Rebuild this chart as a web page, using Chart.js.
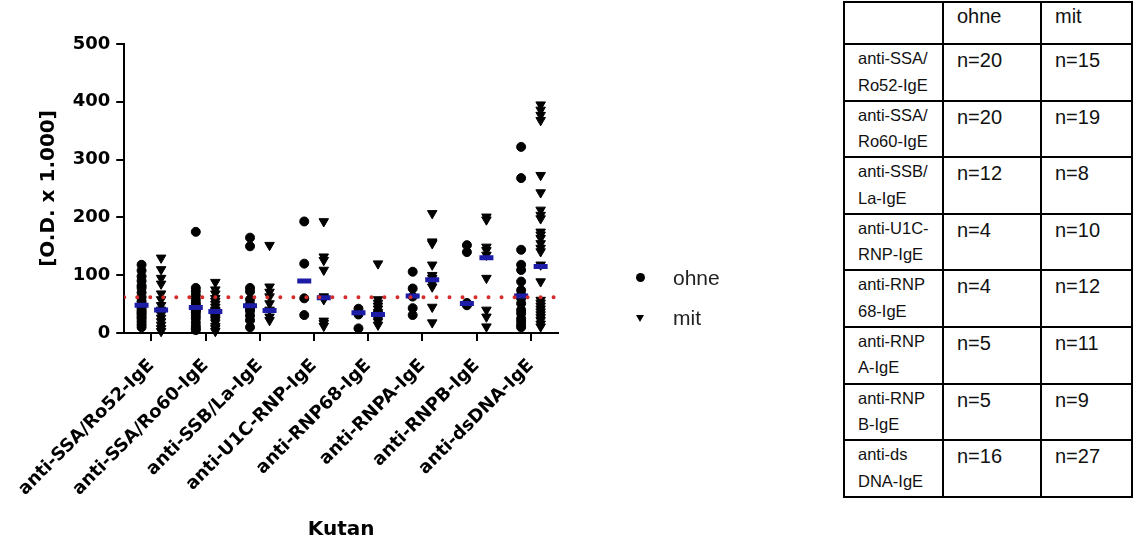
<!DOCTYPE html>
<html>
<head>
<meta charset="utf-8">
<title>Kutan</title>
<script src="https://cdn.jsdelivr.net/npm/chart.js@4.4.1/dist/chart.umd.min.js"></script>
<style>
  body {
    margin: 0;
    width: 1137px;
    height: 551px;
    position: relative;
    overflow: hidden;
    background: #fff;
    font-family: "Liberation Sans", Arial, sans-serif;
  }
  #chartBox { position: absolute; left: 0; top: 0; width: 800px; height: 551px; }

  /* legend (ohne / mit) */
  .legend-row { position: absolute; left: 635px; height: 24px; line-height: 24px; font-size: 21px; color: #222; }
  .legend-row span { position: absolute; left: 38px; top: 0; }
  .dot { position: absolute; left: 1px; top: 7px; width: 9px; height: 9px; border-radius: 50%; background: #000; }
  .tri { position: absolute; left: 1px; top: 9px; width: 0; height: 0;
         border-left: 4px solid transparent; border-right: 4px solid transparent; border-top: 7px solid #000; }

  /* n table */
  #nTable { position: absolute; left: 843px; top: 1px; border-collapse: collapse; table-layout: fixed; }
  #nTable td { border: 2px solid #000; vertical-align: top; padding: 0 0 0 13px; color: #111; }
  #nTable tr.head td { height: 40px; font-size: 20px; line-height: 26px; }
  #nTable tr.row td { height: 54.6px; }
  #nTable td.lab { font-size: 16.5px; line-height: 26.5px; }
  #nTable td.num { font-size: 20px; line-height: 30px; }
</style>
</head>
<body>

<div id="chartBox"><canvas id="dotChart"></canvas></div>

<div class="legend-row" style="top:266px"><div class="dot"></div><span>ohne</span></div>
<div class="legend-row" style="top:306px"><div class="tri"></div><span>mit</span></div>

<table id="nTable"></table>

<script>
/* ---- data ---- */
const categories = ['anti-SSA/Ro52-IgE', 'anti-SSA/Ro60-IgE', 'anti-SSB/La-IgE', 'anti-U1C-RNP-IgE',
                    'anti-RNP68-IgE', 'anti-RNPA-IgE', 'anti-RNPB-IgE', 'anti-dsDNA-IgE'];

const ohneValues = [
    [118, 108, 98, 90, 82, 78, 70, 62, 55, 50, 46, 42, 38, 35, 32, 28, 25, 20, 15, 10],
    [175, 78, 72, 65, 58, 52, 48, 45, 43, 42, 42, 40, 38, 35, 30, 25, 18, 12, 8, 5],
    [165, 150, 78, 72, 58, 50, 45, 42, 38, 30, 22, 10],
    [193, 120, 60, 31],
    [42, 36, 32, 8],
    [106, 77, 63, 43, 31],
    [152, 140, 52, 50, 48],
    [322, 268, 144, 118, 109, 89, 74, 66, 60, 51, 40, 34, 25, 20, 14, 10]
];

const mitValues = [
    [130, 110, 95, 85, 68, 58, 48, 40, 36, 32, 26, 20, 14, 8, 3],
    [88, 75, 68, 60, 55, 50, 45, 40, 38, 36, 34, 32, 28, 25, 22, 18, 12, 8, 3],
    [152, 80, 71, 63, 51, 40, 28, 22],
    [193, 132, 126, 109, 63, 60, 58, 21, 17, 12],
    [120, 58, 52, 47, 42, 36, 33, 30, 27, 24, 20, 14],
    [207, 158, 155, 118, 100, 95, 90, 86, 80, 45, 18],
    [201, 196, 149, 143, 135, 95, 40, 28, 11],
    [395, 386, 377, 368, 273, 243, 213, 204, 198, 175, 170, 164, 155, 147, 141, 118, 89,
     57, 52, 47, 42, 37, 32, 27, 22, 16, 11]
];

const ohneMedians = [48, 44, 47, 90, 35, 64, 51, 64];
const mitMedians = [40, 37, 39, 61, 32, 92, 130, 115];
const cutoff = 62;
const yTicks = [0, 100, 200, 300, 400, 500];

// table on the right
const tableLabels = [['anti-SSA/', 'Ro52-IgE'], ['anti-SSA/', 'Ro60-IgE'], ['anti-SSB/', 'La-IgE'],
                     ['anti-U1C-', 'RNP-IgE'], ['anti-RNP', '68-IgE'], ['anti-RNP', 'A-IgE'],
                     ['anti-RNP', 'B-IgE'], ['anti-ds', 'DNA-IgE']];
const nOhne = [20, 20, 12, 4, 4, 5, 5, 16];
const nMit = [15, 19, 8, 10, 12, 11, 9, 27];

/* ---- table ---- */
const table = document.getElementById('nTable');
let html = '<colgroup><col style="width:99px"><col style="width:98px"><col style="width:91px"></colgroup>';
html += '<tr class="head"><td></td><td>ohne</td><td>mit</td></tr>';
tableLabels.forEach((lab, i) => {
    html += `<tr class="row"><td class="lab">${lab[0]}<br>${lab[1]}</td>` +
            `<td class="num">n=${nOhne[i]}</td><td class="num">n=${nMit[i]}</td></tr>`;
});
table.innerHTML = html;

/* ---- chart ---- */
Chart.defaults.font.family = '"DejaVu Sans", "Liberation Sans", Arial, sans-serif';
Chart.defaults.color = '#000';

const shift = 0.18;   // ohne left of the tick, mit right of it
const toPoints = (groups, dx) => groups.flatMap((vals, i) => vals.map(v => ({ x: i + dx, y: v })));
const medianPoints = (meds, dx) => meds.map((v, i) => ({ x: i + dx, y: v }));
const blue = '#1c1ca6';

new Chart(document.getElementById('dotChart'), {
    type: 'scatter',
    data: {
        datasets: [
            {
                label: 'cutoff',
                type: 'line',
                data: [{ x: -0.5, y: cutoff }, { x: 7.5, y: cutoff }],
                borderColor: '#d42b2b',
                borderWidth: 4,
                borderDash: [0.01, 13],
                borderCapStyle: 'round',
                pointRadius: 0,
                order: 0
            },
            {
                label: 'ohne median',
                data: medianPoints(ohneMedians, -shift),
                pointStyle: 'line',
                pointRadius: 7,
                borderColor: blue,
                borderWidth: 5,
                order: 1
            },
            {
                label: 'mit median',
                data: medianPoints(mitMedians, shift),
                pointStyle: 'line',
                pointRadius: 7,
                borderColor: blue,
                borderWidth: 5,
                order: 1
            },
            {
                label: 'ohne',
                data: toPoints(ohneValues, -shift),
                pointStyle: 'circle',
                pointRadius: 4.5,
                backgroundColor: '#000',
                borderColor: '#000',
                borderWidth: 1,
                clip: false,
                order: 2
            },
            {
                label: 'mit',
                data: toPoints(mitValues, shift),
                pointStyle: 'triangle',
                rotation: 180,
                pointRadius: 5.5,
                backgroundColor: '#000',
                borderColor: '#000',
                borderWidth: 1,
                clip: false,
                order: 2
            }
        ]
    },
    options: {
        responsive: true,
        maintainAspectRatio: false,
        animation: false,
        layout: { padding: { left: 0, top: 44, right: 242, bottom: 0 } },
        plugins: {
            legend: { display: false },
            tooltip: { enabled: false }
        },
        scales: {
            x: {
                type: 'linear',
                min: -0.5,
                max: 7.5,
                afterBuildTicks: scale => { scale.ticks = categories.map((c, i) => ({ value: i })); },
                afterFit: scale => { scale.height = 218; },
                ticks: {
                    callback: (value, index) => categories[index],
                    autoSkip: false,
                    minRotation: 45,
                    maxRotation: 45,
                    padding: 14,
                    font: { size: 18, weight: 'bold' }
                },
                grid: { drawOnChartArea: false, color: '#000', lineWidth: 2, tickLength: 8 },
                border: { color: '#000', width: 2 },
                title: {
                    display: true,
                    text: 'Kutan',
                    font: { size: 20, weight: 'bold' },
                    padding: { top: 0, bottom: 9 }
                }
            },
            y: {
                min: 0,
                max: 500,
                afterBuildTicks: scale => { scale.ticks = yTicks.map(v => ({ value: v })); },
                afterFit: scale => { scale.width = 122; },
                ticks: { padding: 6, font: { size: 18, weight: 'bold' } },
                grid: { drawOnChartArea: false, color: '#000', lineWidth: 2, tickLength: 8 },
                border: { color: '#000', width: 2 },
                title: {
                    display: true,
                    text: '[O.D. x 1.000]',
                    font: { size: 20, weight: 'bold' },
                    padding: { top: 35, bottom: 0 }
                }
            }
        }
    }
});
</script>
</body>
</html>
